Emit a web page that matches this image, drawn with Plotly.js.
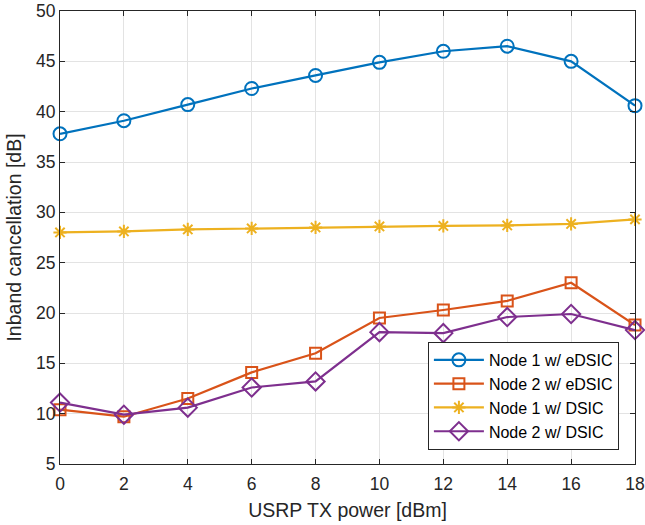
<!DOCTYPE html>
<html><head><meta charset="utf-8">
<script src="https://cdn.plot.ly/plotly-3.0.1.min.js"></script>
<style>body{margin:0;background:#fff}#c{width:645px;height:525px}</style>
</head><body><div id="c"></div>
<script>
var txPower = [0, 2, 4, 6, 8, 10, 12, 14, 16, 18];
var node1eDSIC = [37.8, 39.1, 40.7, 42.3, 43.6, 44.9, 46.0, 46.5, 45.0, 40.6];
var node2eDSIC = [10.4, 9.7, 11.5, 14.1, 16.0, 19.5, 20.3, 21.2, 23.0, 18.8];
var node1DSIC = [28.0, 28.1, 28.3, 28.4, 28.5, 28.6, 28.65, 28.7, 28.85, 29.3];
var node2DSIC = [11.1, 9.9, 10.6, 12.6, 13.2, 18.1, 18.0, 19.6, 19.9, 18.3];
var seriesNames = ['Node 1 w/ eDSIC', 'Node 2 w/ eDSIC', 'Node 1 w/ DSIC', 'Node 2 w/ DSIC'];

var FONT = 'Liberation Sans';
function tr(y, name, color, symbol, size) {
  return {x: txPower, y: y, name: name, type: 'scatter', mode: 'lines+markers', cliponaxis: false,
    line: {color: color, width: 2.2},
    marker: {symbol: symbol, size: size, color: color, line: {color: color, width: 2}}};
}
var data = [
  tr(node1eDSIC, seriesNames[0], '#0072BD', 'circle-open', 13),
  tr(node2eDSIC, seriesNames[1], '#D95319', 'square-open', 11),
  tr(node1DSIC, seriesNames[2], '#EDB120', 'asterisk-open', 11),
  tr(node2DSIC, seriesNames[3], '#7E2F8E', 'diamond-open', 14)
];
var axBase = {showline: true, mirror: 'ticks', linecolor: '#262626', linewidth: 1,
  ticks: 'inside', ticklen: 5, tickcolor: '#262626', showgrid: true, gridcolor: '#e3e3e3',
  zeroline: false, ticklabeloverflow: 'allow',
  tickfont: {family: FONT, size: 17.5, color: '#262626'}};
var layout = {
  width: 645, height: 525,
  margin: {l: 60, r: 10, t: 11, b: 61},
  paper_bgcolor: '#fff', plot_bgcolor: '#fff',
  xaxis: Object.assign({}, axBase, {range: [0, 18], dtick: 2, ticklabelstandoff: 4,
    title: {text: 'USRP TX power [dBm]', standoff: 10, font: {family: FONT, size: 19.5, color: '#262626'}}}),
  yaxis: Object.assign({}, axBase, {range: [5, 50], dtick: 5,
    title: {text: 'Inband cancellation [dB]', standoff: 9, font: {family: FONT, size: 19.5, color: '#262626'}}}),
  legend: {x: 0.972, y: 0.031, xanchor: 'right', yanchor: 'bottom', bgcolor: '#fff',
    bordercolor: '#262626', borderwidth: 1,
    font: {family: FONT, size: 16, color: '#000'},
    tracegroupgap: 0, itemwidth: 50},
  showlegend: true
};
Plotly.newPlot('c', data, layout, {staticPlot: true});
</script></body></html>
